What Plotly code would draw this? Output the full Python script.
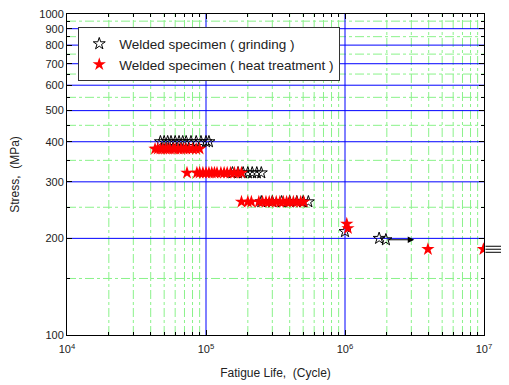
import numpy as np
import plotly.graph_objects as go

# ---- data ----
grind_cycles = [47000, 50000, 53000, 56000, 60000, 64000, 68000, 72000, 78000, 85000, 92000, 100000, 105000,
                155000, 170000, 185000, 200000, 215000, 232000, 250000,
                250000, 300000, 350000, 400000, 450000, 500000, 545000,
                1000000, 1760000, 1970000]
grind_stress = [400]*13 + [320]*7 + [260]*7 + [210, 200, 198]

heat_cycles = [43000, 45000, 47000, 49000, 51000, 53000, 55000, 58000, 60000, 63000, 66000, 69000, 72000, 76000, 80000, 85000, 90000,
               73000, 86000, 90000, 95000, 100000, 105000, 110000, 115000, 120000, 128000, 135000, 142000, 150000, 160000, 170000, 180000,
               180000, 200000, 212000, 240000, 255000, 270000, 285000, 300000, 320000, 340000, 360000, 380000, 400000, 425000, 450000, 480000, 505000,
               1030000, 1050000, 3950000, 9900000]
heat_stress = [380]*17 + [320]*16 + [260]*17 + [222, 215, 185, 185]

# run-out arrows: (start cycles, end cycles, stress)
runout_start = [1970000, 10000000, 10000000, 10000000]
runout_end = [3150000, 15500000, 15500000, 15500000]
runout_stress = [198, 189, 185, 181]

x_ticks = [1e4, 1e5, 1e6, 1e7]
x_ticktext = ["10<sup>4</sup>", "10<sup>5</sup>", "10<sup>6</sup>", "10<sup>7</sup>"]
y_ticks = [100, 200, 300, 400, 500, 600, 700, 800, 900, 1000]
y_minor = [150, 250, 350, 450, 550, 650, 750, 850, 950]
x_minor = [m * 10**e for e in (4, 5, 6) for m in range(2, 10)]

BLUE = "#0000ff"
GREEN = "#8af28a"

X_LO, X_HI = x_ticks[0], x_ticks[-1]
Y_LO, Y_HI = y_ticks[0], y_ticks[-1]


def hlines(vals):
    xs, ys = [], []
    for v in vals:
        xs += [X_LO, X_HI, None]
        ys += [v, v, None]
    return xs, ys


def vlines(vals):
    xs, ys = [], []
    for v in vals:
        xs += [v, v, None]
        ys += [Y_LO, Y_HI, None]
    return xs, ys


fig = go.Figure()

# grid: minor (green dash-dot) then major (blue)
for fn, vals in ((hlines, y_minor), (vlines, x_minor)):
    gx, gy = fn(vals)
    fig.add_trace(go.Scatter(x=gx, y=gy, mode="lines", showlegend=False, hoverinfo="skip",
                             line=dict(color=GREEN, width=1, dash="dashdot")))
for fn, vals in ((hlines, y_ticks[1:-1]), (vlines, x_ticks[1:-1])):
    gx, gy = fn(vals)
    fig.add_trace(go.Scatter(x=gx, y=gy, mode="lines", showlegend=False, hoverinfo="skip",
                             line=dict(color=BLUE, width=1)))

fig.add_trace(go.Scatter(
    x=grind_cycles, y=grind_stress, mode="markers",
    name="Welded specimen ( grinding )",
    marker=dict(symbol="star-open", size=9, color="black", line=dict(width=1, color="black")),
))
fig.add_trace(go.Scatter(
    x=heat_cycles, y=heat_stress, mode="markers",
    name="Welded specimen ( heat treatment )",
    marker=dict(symbol="star", size=10, color="red", line=dict(width=0)),
))

for xs, xe, s in zip(runout_start, runout_end, runout_stress):
    fig.add_annotation(
        x=np.log10(xe), y=np.log10(s), ax=np.log10(xs), ay=np.log10(s),
        xref="x", yref="y", axref="x", ayref="y",
        showarrow=True, arrowhead=2, arrowsize=1.3, arrowwidth=1, arrowcolor="black", text="",
    )

fig.update_xaxes(
    type="log", range=[4, 7], automargin=False,
    tickvals=x_ticks, ticktext=x_ticktext,
    ticks="inside", ticklen=5, tickcolor="black",
    showline=True, linecolor="black", linewidth=1, mirror="ticks",
    showgrid=False, ticklabelstandoff=4, ticklabeloverflow="allow",
    minor=dict(tickvals=x_minor, ticks="inside", ticklen=3, tickcolor="black", showgrid=False),
    title=dict(text="Fatigue Life,  (Cycle)", font=dict(size=12, color="#222"), standoff=14),
    tickfont=dict(size=11, color="#222"),
    zeroline=False,
)
fig.update_yaxes(
    type="log", range=[2, 3], automargin=False,
    tickvals=y_ticks, ticktext=[str(v) for v in y_ticks],
    ticks="inside", ticklen=5, tickcolor="black",
    showline=True, linecolor="black", linewidth=1, mirror="ticks",
    showgrid=False, ticklabeloverflow="allow",
    minor=dict(tickvals=y_minor, ticks="inside", ticklen=3, tickcolor="black", showgrid=False),
    title=dict(text="Stress,  (MPa)", font=dict(size=12, color="#222"), standoff=24),
    tickfont=dict(size=11, color="#222"),
    zeroline=False,
)

# page body has an 8px margin, so the figure is 8px smaller than the window
fig.update_layout(
    width=501, height=377,
    margin=dict(l=59, r=25, t=6, b=50),
    paper_bgcolor="white", plot_bgcolor="white",
    font=dict(family="Liberation Sans, Arial, sans-serif", color="#222"),
    legend=dict(x=0.027, y=0.958, xanchor="left", yanchor="top",
                bgcolor="white", bordercolor="#333", borderwidth=1,
                font=dict(size=13.5, color="#222"), itemwidth=30,
                tracegroupgap=0),
    showlegend=True,
)

fig.write_html("out.html")
